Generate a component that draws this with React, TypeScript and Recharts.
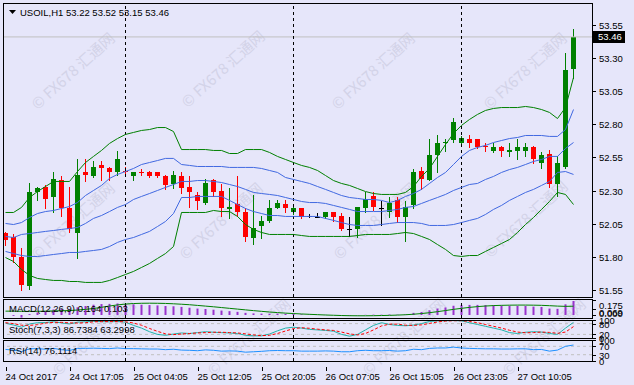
import React from 'react';
import { ComposedChart, Bar, Line, XAxis, YAxis, ReferenceLine } from 'recharts';

const FONT = '"Liberation Sans", Arial, sans-serif';
const BG = '#E6E6FA';

const xTickIndex = [0, 8, 16, 24, 32, 40, 48, 56, 64];
const xTickLabels = ['24 Oct 2017', '24 Oct 17:05', '25 Oct 04:05', '25 Oct 12:05', '25 Oct 20:05', '26 Oct 07:05', '26 Oct 15:05', '26 Oct 23:05', '27 Oct 10:05'];
const separators = [15, 36, 57];
const priceTicks = [51.55, 51.8, 52.05, 52.3, 52.55, 52.8, 53.05, 53.3, 53.55];
const lastPrice = 53.46;
const macdTicks = [0.175, 0.069, 0.0];
const macdTickText = ['0.175', '0.069', '0.000'];
const stochTicks = [100, 80, 20, 0];
const rsiTicks = [100, 70, 30, 0];

const opens = [51.98, 51.95, 51.80, 51.58, 52.29, 52.33, 52.25, 52.38, 52.17, 51.98, 52.44, 52.41, 52.49, 52.47, 52.44, 52.45, 52.41, 52.44, 52.44, 52.44, 52.41, 52.35, 52.41, 52.33, 52.27, 52.21, 52.38, 52.30, 52.16, 52.20, 52.14, 51.94, 52.03, 52.07, 52.17, 52.20, 52.14, 52.17, 52.11, 52.10, 52.10, 52.14, 52.11, 52.01, 52.01, 52.17, 52.26, 52.17, 52.14, 52.23, 52.10, 52.19, 52.45, 52.38, 52.57, 52.66, 52.68, 52.66, 52.69, 52.69, 52.64, 52.60, 52.63, 52.59, 52.60, 52.60, 52.63, 52.51, 52.58, 52.35, 52.48, 53.22];
const highs = [51.99, 51.97, 51.87, 52.36, 52.33, 52.34, 52.44, 52.41, 52.33, 52.54, 52.54, 52.52, 52.52, 52.48, 52.60, 52.48, 52.44, 52.46, 52.45, 52.44, 52.42, 52.45, 52.44, 52.41, 52.29, 52.39, 52.39, 52.35, 52.32, 52.41, 52.17, 52.27, 52.11, 52.23, 52.23, 52.23, 52.18, 52.17, 52.12, 52.13, 52.14, 52.14, 52.13, 52.10, 52.18, 52.29, 52.29, 52.22, 52.25, 52.25, 52.22, 52.46, 52.48, 52.69, 52.72, 52.69, 52.85, 52.71, 52.72, 52.69, 52.66, 52.66, 52.64, 52.66, 52.69, 52.66, 52.64, 52.59, 52.61, 52.56, 53.34, 53.52];
const lows = [51.89, 51.76, 51.55, 51.56, 52.23, 52.17, 52.14, 52.11, 51.99, 51.79, 52.37, 52.40, 52.38, 52.38, 52.42, 52.41, 52.38, 52.42, 52.40, 52.40, 52.31, 52.32, 52.28, 52.18, 52.16, 52.20, 52.26, 52.11, 52.09, 52.11, 51.92, 51.90, 51.94, 52.06, 52.17, 52.14, 52.12, 52.09, 52.10, 52.10, 52.09, 52.07, 52.00, 51.96, 51.95, 52.14, 52.15, 52.04, 52.10, 52.06, 51.92, 52.17, 52.31, 52.38, 52.44, 52.60, 52.67, 52.66, 52.63, 52.62, 52.60, 52.59, 52.56, 52.56, 52.54, 52.56, 52.51, 52.47, 52.33, 52.26, 52.47, 53.15];
const closes = [51.93, 51.80, 51.59, 52.29, 52.32, 52.24, 52.39, 52.17, 52.01, 52.42, 52.42, 52.48, 52.47, 52.44, 52.54, 52.44, 52.44, 52.43, 52.41, 52.41, 52.34, 52.42, 52.32, 52.29, 52.22, 52.36, 52.29, 52.17, 52.18, 52.14, 51.95, 52.02, 52.07, 52.17, 52.21, 52.17, 52.17, 52.10, 52.11, 52.10, 52.14, 52.10, 52.01, 52.01, 52.18, 52.24, 52.18, 52.17, 52.21, 52.10, 52.18, 52.44, 52.39, 52.57, 52.66, 52.67, 52.82, 52.70, 52.66, 52.63, 52.63, 52.63, 52.60, 52.61, 52.63, 52.63, 52.54, 52.57, 52.35, 52.51, 53.21, 53.46];

const bbUpper2 = [52.135, 52.135, 52.173, 52.248, 52.293, 52.331, 52.369, 52.369, 52.369, 52.444, 52.512, 52.558, 52.603, 52.656, 52.693, 52.724, 52.739, 52.754, 52.761, 52.776, 52.776, 52.746, 52.610, 52.610, 52.610, 52.610, 52.603, 52.603, 52.580, 52.580, 52.610, 52.610, 52.610, 52.588, 52.558, 52.535, 52.512, 52.490, 52.475, 52.452, 52.414, 52.376, 52.354, 52.339, 52.316, 52.293, 52.278, 52.271, 52.271, 52.271, 52.286, 52.331, 52.407, 52.467, 52.558, 52.648, 52.731, 52.792, 52.837, 52.875, 52.905, 52.920, 52.927, 52.927, 52.927, 52.935, 52.927, 52.912, 52.890, 52.844, 52.927, 53.154];
const bbUpper1 = [52.052, 52.044, 52.059, 52.097, 52.127, 52.142, 52.150, 52.165, 52.180, 52.210, 52.263, 52.301, 52.339, 52.392, 52.422, 52.444, 52.467, 52.497, 52.512, 52.527, 52.543, 52.543, 52.497, 52.490, 52.482, 52.482, 52.482, 52.482, 52.475, 52.475, 52.475, 52.475, 52.467, 52.452, 52.437, 52.399, 52.384, 52.369, 52.354, 52.331, 52.309, 52.286, 52.263, 52.248, 52.241, 52.233, 52.233, 52.226, 52.210, 52.226, 52.256, 52.278, 52.309, 52.354, 52.399, 52.437, 52.497, 52.558, 52.603, 52.626, 52.641, 52.663, 52.678, 52.693, 52.701, 52.716, 52.716, 52.716, 52.709, 52.709, 52.761, 52.912];
const bbMiddle = [51.954, 51.946, 51.969, 51.976, 51.984, 51.992, 51.999, 52.007, 52.014, 52.022, 52.052, 52.090, 52.112, 52.142, 52.173, 52.195, 52.233, 52.256, 52.278, 52.301, 52.324, 52.346, 52.369, 52.369, 52.376, 52.376, 52.369, 52.361, 52.346, 52.331, 52.309, 52.286, 52.278, 52.271, 52.263, 52.248, 52.233, 52.218, 52.210, 52.210, 52.203, 52.188, 52.173, 52.158, 52.142, 52.142, 52.142, 52.142, 52.150, 52.158, 52.173, 52.180, 52.203, 52.226, 52.248, 52.271, 52.301, 52.324, 52.346, 52.354, 52.384, 52.407, 52.437, 52.459, 52.475, 52.497, 52.520, 52.535, 52.558, 52.558, 52.618, 52.663];
const bbLower1 = [51.841, 51.825, 51.810, 51.803, 51.803, 51.810, 51.818, 51.825, 51.833, 51.833, 51.841, 51.848, 51.856, 51.878, 51.909, 51.931, 51.946, 51.969, 51.992, 52.029, 52.067, 52.127, 52.248, 52.248, 52.256, 52.256, 52.256, 52.256, 52.226, 52.195, 52.165, 52.142, 52.127, 52.112, 52.112, 52.105, 52.105, 52.105, 52.105, 52.105, 52.090, 52.075, 52.059, 52.044, 52.037, 52.037, 52.037, 52.044, 52.052, 52.059, 52.059, 52.059, 52.052, 52.037, 52.037, 52.037, 52.044, 52.059, 52.075, 52.090, 52.120, 52.158, 52.188, 52.226, 52.256, 52.286, 52.309, 52.339, 52.369, 52.437, 52.444, 52.422];
const bbLower2 = [51.795, 51.765, 51.705, 51.660, 51.637, 51.629, 51.622, 51.622, 51.614, 51.614, 51.607, 51.607, 51.607, 51.622, 51.644, 51.667, 51.690, 51.720, 51.750, 51.788, 51.825, 51.878, 52.135, 52.135, 52.135, 52.135, 52.150, 52.142, 52.142, 52.105, 52.044, 52.007, 51.984, 51.969, 51.969, 51.969, 51.969, 51.961, 51.954, 51.954, 51.954, 51.954, 51.954, 51.954, 51.961, 51.969, 51.969, 51.969, 51.969, 51.976, 51.984, 51.976, 51.954, 51.931, 51.893, 51.856, 51.810, 51.803, 51.810, 51.810, 51.841, 51.871, 51.901, 51.931, 51.984, 52.044, 52.097, 52.158, 52.218, 52.286, 52.271, 52.195];

const macdMain = [0.0, -0.01, -0.03, 0.01, 0.03, 0.045, 0.065, 0.07, 0.065, 0.09, 0.105, 0.12, 0.128, 0.13, 0.135, 0.128, 0.124, 0.12, 0.116, 0.112, 0.105, 0.102, 0.095, 0.085, 0.075, 0.07, 0.062, 0.052, 0.045, 0.037, 0.025, 0.019, 0.016, 0.015, 0.016, 0.014, 0.012, 0.008, 0.005, 0.002, 0.002, 0.0, -0.005, -0.008, -0.004, 0.002, 0.004, 0.004, 0.006, 0.004, 0.006, 0.025, 0.035, 0.055, 0.075, 0.088, 0.108, 0.115, 0.118, 0.118, 0.116, 0.114, 0.11, 0.108, 0.107, 0.106, 0.098, 0.094, 0.075, 0.072, 0.125, 0.164];
const macdSignal = [0.045, 0.045, 0.043, 0.042, 0.043, 0.045, 0.048, 0.05, 0.052, 0.058, 0.066, 0.076, 0.09, 0.105, 0.118, 0.128, 0.134, 0.137, 0.138, 0.137, 0.135, 0.131, 0.126, 0.12, 0.112, 0.104, 0.096, 0.087, 0.078, 0.069, 0.06, 0.051, 0.043, 0.035, 0.028, 0.022, 0.017, 0.012, 0.008, 0.004, 0.0, -0.003, -0.006, -0.008, -0.009, -0.009, -0.008, -0.006, -0.004, -0.001, 0.003, 0.009, 0.017, 0.027, 0.039, 0.052, 0.066, 0.078, 0.089, 0.098, 0.105, 0.11, 0.113, 0.115, 0.116, 0.116, 0.115, 0.113, 0.109, 0.104, 0.101, 0.103];
const stochMain = [82, 72, 60, 78, 85, 86, 90, 84, 78, 88, 90, 92, 91, 90, 92, 88, 70, 55, 35, 20, 15, 22, 28, 25, 30, 35, 32, 30, 28, 25, 15, 12, 12, 22, 40, 55, 60, 55, 48, 45, 42, 38, 20, 10, 20, 45, 70, 85, 75, 70, 68, 72, 80, 92, 95, 96, 97, 95, 85, 75, 65, 55, 45, 30, 25, 32, 35, 33, 25, 20, 55, 86.7384];
const stochSignal = [85, 80, 71, 70, 74, 83, 87, 87, 84, 83, 85, 90, 91, 91, 91, 90, 83, 71, 53, 37, 23, 19, 22, 25, 28, 30, 32, 32, 30, 28, 23, 17, 13, 15, 25, 39, 52, 57, 54, 49, 45, 42, 33, 23, 17, 25, 45, 67, 77, 77, 71, 70, 73, 81, 89, 94, 96, 96, 92, 85, 75, 65, 55, 43, 33, 29, 30, 33, 31, 26, 33, 63.2998];
const rsi = [55, 52, 45, 58, 59, 56, 60, 54, 50, 60, 60, 61, 60, 59, 62, 59, 59, 58, 57, 57, 54, 56, 52, 51, 49, 53, 51, 47, 48, 47, 42, 44, 46, 49, 50, 49, 49, 47, 47, 47, 48, 47, 44, 44, 49, 51, 49, 49, 50, 47, 49, 56, 54, 60, 62, 62, 66, 62, 60, 59, 58, 58, 57, 57, 58, 58, 54, 55, 47, 52, 70, 76.1114];

const data = opens.map((o, i) => ({
  i,
  o,
  h: highs[i],
  l: lows[i],
  c: closes[i],
  range: [lows[i], highs[i]],
  u2: bbUpper2[i],
  u1: bbUpper1[i],
  m: bbMiddle[i],
  l1: bbLower1[i],
  l2: bbLower2[i],
  macd: macdMain[i],
  sig: macdSignal[i],
  sk: stochMain[i],
  sd: stochSignal[i],
  rsi: rsi[i],
}));

const W = 634;
const PLOT_L = 3;
const PLOT_R = 592;
const AXIS_W = W - PLOT_R;
const X_DOMAIN: [number, number] = [-0.3125, 73.3125];

const Candle = (props: any) => {
  const { x, y, width, height, payload } = props;
  if (payload == null || height == null) return null;
  const { o, h, l, c } = payload;
  const cx = Math.round(x + width / 2);
  const py = (v: number) => y + ((h - v) / (h - l)) * height;
  const yO = py(o);
  const yC = py(c);
  const color = c > o ? '#008000' : c < o ? '#FF0000' : '#000000';
  const top = Math.round(Math.min(yO, yC));
  const bot = Math.round(Math.max(yO, yC));
  return (
    <g>
      <line x1={cx + 0.5} x2={cx + 0.5} y1={Math.round(y)} y2={Math.round(y + height) + 1} stroke={color} strokeWidth={1} />
      {c === o ? (
        <line x1={cx - 2} x2={cx + 3} y1={top + 0.5} y2={top + 0.5} stroke={color} strokeWidth={1} />
      ) : (
        <rect x={cx - 2} y={top} width={5} height={Math.max(1, bot - top)} fill={color} />
      )}
    </g>
  );
};

const PriceTick = (props: any) => {
  const { y, payload } = props;
  const yy = Math.round(y) + 0.5;
  return (
    <g>
      <line x1={PLOT_R} x2={PLOT_R + 4} y1={yy} y2={yy} stroke="#000" />
      <text x={PLOT_R + 7} y={yy} dy="0.36em" fontSize={9.5} fontFamily={FONT} fill="#000">
        {Number(payload.value).toFixed(2)}
      </text>
    </g>
  );
};

const PriceLabel = (props: any) => {
  const { viewBox } = props;
  if (!viewBox) return null;
  const yy = Math.round(viewBox.y);
  return (
    <g>
      <rect x={PLOT_R + 1} y={yy - 6} width={32} height={12} fill="#000" />
      <text x={PLOT_R + 6} y={yy} dy="0.36em" fontSize={9.5} fontFamily={FONT} fill="#fff">
        {lastPrice.toFixed(2)}
      </text>
    </g>
  );
};

const MacdTick = (props: any) => {
  const { y, payload } = props;
  const idx = macdTicks.indexOf(payload.value);
  const yy = Math.round(y) + 0.5;
  const offsets = [5, 3, -2];
  return (
    <g>
      <line x1={PLOT_R} x2={PLOT_R + 4} y1={yy} y2={yy} stroke="#000" />
      <text x={PLOT_R + 7} y={yy + offsets[idx]} dy="0.36em" fontSize={9.5} fontFamily={FONT} fill="#000">
        {macdTickText[idx]}
      </text>
    </g>
  );
};

const LevelTick = (props: any) => {
  const { y, payload } = props;
  const yy = Math.round(y) + 0.5;
  return (
    <g>
      <line x1={PLOT_R} x2={PLOT_R + 4} y1={yy} y2={yy} stroke="#000" />
      <text x={PLOT_R + 7} y={yy} dy="0.36em" fontSize={9.5} fontFamily={FONT} fill="#000">
        {String(payload.value)}
      </text>
    </g>
  );
};

const TimeTick = (props: any) => {
  const { x, y, payload } = props;
  const idx = xTickIndex.indexOf(payload.value);
  const xx = Math.round(x) + 0.5;
  return (
    <g>
      <line x1={xx} x2={xx} y1={y - 2} y2={y + 2} stroke="#000" />
      <text x={xx - 1} y={y + 11} fontSize={9.5} fontFamily={FONT} fill="#000">
        {xTickLabels[idx]}
      </text>
    </g>
  );
};

const Box = ({ top, height }: { top: number; height: number }) => (
  <div
    style={{
      position: 'absolute',
      left: PLOT_L,
      top,
      width: PLOT_R - PLOT_L + 1,
      height: height + 1,
      border: '1px solid #000',
      boxSizing: 'border-box',
      pointerEvents: 'none',
    }}
  />
);

const watermarkCenters = [
  [74, 72], [224, 70], [374, 72], [526, 72],
  [74, 222], [222, 222], [376, 222], [527, 220],
  [95, 338], [250, 338], [405, 338], [545, 338],
];

const sepLines = separators.map((s) => (
  <ReferenceLine key={'sep' + s} x={s} stroke="#000" strokeDasharray="3 3" ifOverflow="visible" />
));

export default function App() {
  const MAIN_TOP = 3;
  const MAIN_BOTTOM = 297;
  const MACD_TOP = 299;
  const MACD_BOTTOM = 318;
  const ST_TOP = 320;
  const ST_BOTTOM = 338;
  const RSI_TOP = 340;
  const RSI_BOTTOM = 361;
  const pad = 10;

  return (
    <div style={{ position: 'fixed', left: 0, top: 0, width: W, height: 385, background: BG, overflow: 'hidden', fontFamily: FONT }}>
      <svg width={W} height={385} style={{ position: 'absolute', left: 0, top: 0 }}>
        {watermarkCenters.map(([cx, cy], k) => (
          <text
            key={k}
            x={cx}
            y={cy}
            textAnchor="middle"
            dominantBaseline="middle"
            transform={`rotate(-42 ${cx} ${cy})`}
            fontSize={15}
            fontFamily={'"Noto Sans CJK SC", "DejaVu Sans", sans-serif'}
            fill="#D3D3E8"
          >
            © FX678 汇通网
          </text>
        ))}
      </svg>

      <div style={{ position: 'absolute', left: 0, top: 0 }}>
        <ComposedChart width={W} height={MAIN_BOTTOM + 3} data={data} margin={{ top: MAIN_TOP, right: 0, bottom: 3, left: PLOT_L }}>
          <XAxis type="number" dataKey="i" domain={X_DOMAIN} hide allowDataOverflow />
          <YAxis
            orientation="right"
            width={AXIS_W}
            domain={[51.497, 53.716]}
            ticks={priceTicks}
            tick={<PriceTick />}
            tickLine={false}
            axisLine={false}
            allowDataOverflow
            interval={0}
          />
          <ReferenceLine y={lastPrice} stroke="#C0C0C0" label={<PriceLabel />} ifOverflow="visible" />
          {sepLines}
          <Line dataKey="u2" stroke="#008000" strokeWidth={1} dot={false} isAnimationActive={false} />
          <Line dataKey="l2" stroke="#008000" strokeWidth={1} dot={false} isAnimationActive={false} />
          <Line dataKey="u1" stroke="#4169E1" strokeWidth={1} dot={false} isAnimationActive={false} />
          <Line dataKey="m" stroke="#4169E1" strokeWidth={1} dot={false} isAnimationActive={false} />
          <Line dataKey="l1" stroke="#4169E1" strokeWidth={1} dot={false} isAnimationActive={false} />
          <Bar dataKey="range" barSize={5} shape={<Candle />} isAnimationActive={false} />
        </ComposedChart>
      </div>

      <div style={{ position: 'absolute', left: 0, top: MACD_TOP - pad }}>
        <ComposedChart width={W} height={MACD_BOTTOM - MACD_TOP + 2 * pad} data={data} margin={{ top: pad, right: 0, bottom: pad, left: PLOT_L }}>
          <XAxis type="number" dataKey="i" domain={X_DOMAIN} hide allowDataOverflow />
          <YAxis
            orientation="right"
            width={AXIS_W}
            domain={[-0.035, 0.187]}
            ticks={macdTicks}
            tick={<MacdTick />}
            tickLine={false}
            axisLine={false}
            allowDataOverflow
            interval={0}
          />
          {sepLines}
          <Bar dataKey="macd" barSize={2} fill="#9932CC" isAnimationActive={false} />
          <Line dataKey="sig" stroke="#008000" strokeWidth={1} dot={false} isAnimationActive={false} />
        </ComposedChart>
      </div>

      <div style={{ position: 'absolute', left: 0, top: ST_TOP - pad }}>
        <ComposedChart width={W} height={ST_BOTTOM - ST_TOP + 2 * pad} data={data} margin={{ top: pad, right: 0, bottom: pad, left: PLOT_L }}>
          <XAxis type="number" dataKey="i" domain={X_DOMAIN} hide allowDataOverflow />
          <YAxis
            orientation="right"
            width={AXIS_W}
            domain={[0, 100]}
            ticks={stochTicks}
            tick={<LevelTick />}
            tickLine={false}
            axisLine={false}
            interval={0}
          />
          <ReferenceLine y={80} stroke="#C0C0C0" strokeDasharray="3 3" />
          <ReferenceLine y={20} stroke="#C0C0C0" strokeDasharray="3 3" />
          {sepLines}
          <Line dataKey="sk" stroke="#20B2AA" strokeWidth={1} dot={false} isAnimationActive={false} />
          <Line dataKey="sd" stroke="#FF0000" strokeWidth={1} strokeDasharray="3 2" dot={false} isAnimationActive={false} />
        </ComposedChart>
      </div>

      <div style={{ position: 'absolute', left: 0, top: RSI_TOP - pad }}>
        <ComposedChart width={W} height={RSI_BOTTOM - RSI_TOP + pad + 24} data={data} margin={{ top: pad, right: 0, bottom: 0, left: PLOT_L }}>
          <XAxis
            type="number"
            dataKey="i"
            domain={X_DOMAIN}
            ticks={xTickIndex}
            tick={<TimeTick />}
            tickLine={false}
            axisLine={false}
            height={24}
            allowDataOverflow
            interval={0}
          />
          <YAxis
            orientation="right"
            width={AXIS_W}
            domain={[0, 100]}
            ticks={rsiTicks}
            tick={<LevelTick />}
            tickLine={false}
            axisLine={false}
            interval={0}
          />
          <ReferenceLine y={70} stroke="#C0C0C0" strokeDasharray="3 3" />
          <ReferenceLine y={30} stroke="#C0C0C0" strokeDasharray="3 3" />
          {sepLines}
          <Line dataKey="rsi" stroke="#1E90FF" strokeWidth={1} dot={false} isAnimationActive={false} />
        </ComposedChart>
      </div>

      <Box top={MAIN_TOP} height={MAIN_BOTTOM - MAIN_TOP} />
      <Box top={MACD_TOP} height={MACD_BOTTOM - MACD_TOP} />
      <Box top={ST_TOP} height={ST_BOTTOM - ST_TOP} />
      <Box top={RSI_TOP} height={RSI_BOTTOM - RSI_TOP} />

      <svg width={W} height={385} style={{ position: 'absolute', left: 0, top: 0, pointerEvents: 'none' }}>
        <polygon points="9,10 16,10 12.5,14" fill="#000" />
        <text x={20} y={16} fontSize={9.5} fontFamily={FONT} fill="#000">USOIL,H1  53.22 53.52 53.15 53.46</text>
        <text x={9} y={312} fontSize={9.5} fontFamily={FONT} fill="#000">MACD(12,26,9) 0.164 0.103</text>
        <text x={9} y={333} fontSize={9.5} fontFamily={FONT} fill="#000">Stoch(7,3,3) 86.7384 63.2998</text>
        <text x={9} y={354} fontSize={9.5} fontFamily={FONT} fill="#000">RSI(14) 76.1114</text>
      </svg>
    </div>
  );
}
